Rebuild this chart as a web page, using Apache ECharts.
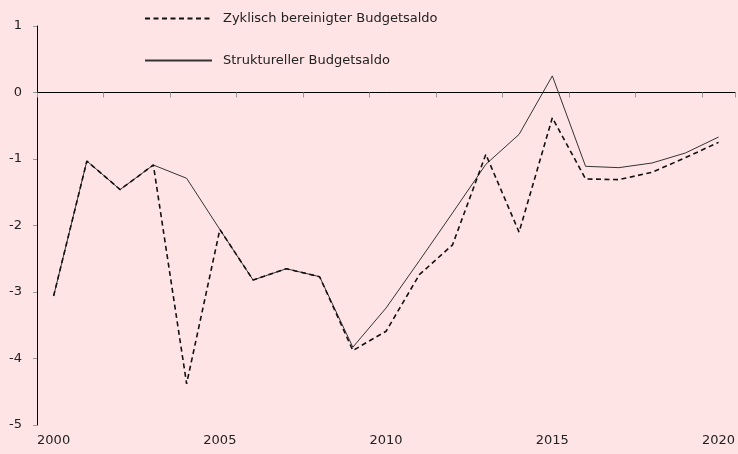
<!DOCTYPE html>
<html>
<head>
<meta charset="utf-8">
<script src="https://cdn.jsdelivr.net/npm/echarts@6/dist/echarts.min.js"></script>
<style>
  html, body { margin: 0; padding: 0; background: #ffe4e6; }
  #chart { width: 738px; height: 454px; }
</style>
</head>
<body>
<div id="chart"></div>
<script>
// Jahre (Kategorien)
const years = ['2000', '2001', '2002', '2003', '2004', '2005', '2006', '2007', '2008', '2009', '2010',
  '2011', '2012', '2013', '2014', '2015', '2016', '2017', '2018', '2019', '2020'];

// Zyklisch bereinigter Budgetsaldo (gestrichelt)
const zyklisch = [-3.06, -1.03, -1.46, -1.09, -4.38, -2.06, -2.82, -2.65, -2.77, -3.88, -3.59,
  -2.74, -2.29, -0.93, -2.10, -0.38, -1.30, -1.31, -1.20, -0.98, -0.75];

// Struktureller Budgetsaldo (durchgezogen)
const strukturell = [-3.06, -1.03, -1.46, -1.09, -1.29, -2.06, -2.82, -2.65, -2.77, -3.83, -3.24,
  -2.53, -1.81, -1.08, -0.63, 0.25, -1.11, -1.13, -1.06, -0.91, -0.67];

const fontFamily = '"DejaVu Sans", sans-serif';

const chart = echarts.init(document.getElementById('chart'));

chart.setOption({
  backgroundColor: '#ffe4e6',
  animation: false,
  textStyle: { fontFamily: fontFamily },
  legend: {
    orient: 'vertical',
    left: 144,
    top: 12,
    padding: 0,
    itemWidth: 67,
    itemHeight: 14,
    itemGap: 29,
    itemStyle: { opacity: 0 },
    textStyle: { fontSize: 13, color: '#222', fontFamily: fontFamily, padding: [0, 0, 0, 6] },
    data: ['Zyklisch bereinigter Budgetsaldo', 'Struktureller Budgetsaldo']
  },
  grid: { left: 37, top: 26, width: 703, bottom: 29 },
  xAxis: [
    {
      type: 'category',
      data: years,
      boundaryGap: true,
      axisLine: { onZero: true, lineStyle: { color: '#000', width: 1 } },
      axisTick: { show: true, length: 5, lineStyle: { color: '#999' } },
      axisLabel: { show: false },
      splitLine: { show: false }
    },
    {
      type: 'category',
      data: years,
      position: 'bottom',
      boundaryGap: true,
      axisLine: { show: false, onZero: false },
      axisTick: { show: false },
      axisLabel: { interval: 4, margin: 9, fontSize: 13, color: '#222', fontFamily: fontFamily },
      splitLine: { show: false }
    }
  ],
  yAxis: {
    type: 'value',
    min: -5,
    max: 1,
    interval: 1,
    axisLine: { show: true, onZero: false, lineStyle: { color: '#000', width: 1 } },
    axisTick: { show: true, length: 4, lineStyle: { color: '#999' } },
    axisLabel: { margin: 15, fontSize: 13, color: '#222', fontFamily: fontFamily },
    splitLine: { show: false }
  },
  series: [
    {
      name: 'Zyklisch bereinigter Budgetsaldo',
      type: 'line',
      data: zyklisch,
      symbol: 'none',
      lineStyle: { color: '#111', width: 1.6, type: [5, 3.5] },
      itemStyle: { color: '#111' },
      z: 3
    },
    {
      name: 'Struktureller Budgetsaldo',
      type: 'line',
      data: strukturell,
      symbol: 'none',
      lineStyle: { color: '#333', width: 1 },
      itemStyle: { color: '#333' },
      z: 2
    }
  ]
});
</script>
</body>
</html>
